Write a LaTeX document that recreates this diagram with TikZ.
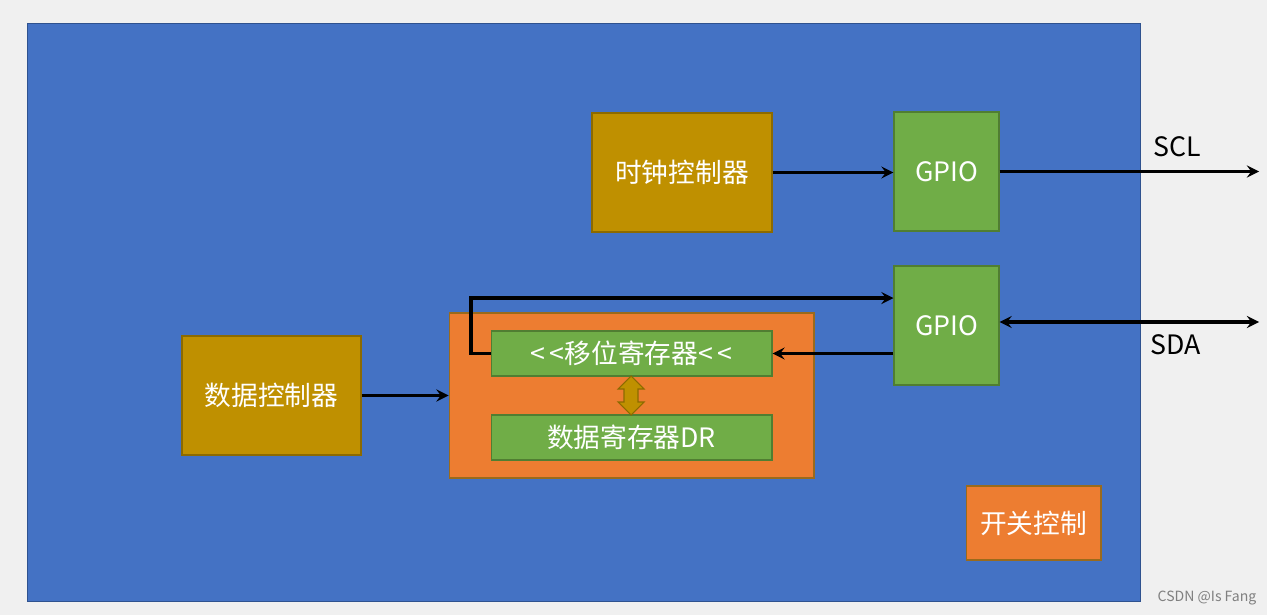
\documentclass[tikz,border=0pt]{standalone}
\usepackage{fontspec}
\setmainfont{Noto Sans CJK SC}
\definecolor{chipblue}{HTML}{4472C4}
\definecolor{chipedge}{HTML}{2F528F}
\definecolor{gold}{HTML}{BF9000}
\definecolor{goldedge}{HTML}{8C6A00}
\definecolor{leaf}{HTML}{70AD47}
\definecolor{leafedge}{HTML}{507E32}
\definecolor{tangerine}{HTML}{ED7D31}
\definecolor{tangedge}{HTML}{9A6A1C}
\definecolor{paper}{HTML}{F0F0F0}
\tikzset{
  box/.style={draw, line width=0.6pt, text=white, inner sep=0pt, font=\fontsize{15.2}{16}\selectfont},
  ctl/.style={box, fill=gold, draw=goldedge, minimum width=3.6cm, minimum height=2.38cm},
  gpio/.style={box, fill=leaf, draw=leafedge, minimum width=2.1cm, minimum height=2.38cm},
  reg/.style={box, fill=leaf, draw=leafedge, minimum width=5.62cm, minimum height=0.9cm},
  wire/.style={line width=2pt, ->},
  pin/.style={font=\fontsize{15.2}{16}\selectfont}
}
\begin{document}
\begin{tikzpicture}[>=stealth, x=0.02cm, y=-0.02cm]
    
    \fill[paper] (0,0) rectangle (1267,615);
    \useasboundingbox (0,0) rectangle (1267,615);
    
    \node[draw=chipedge, fill=chipblue, line width=0.6pt, minimum width=22.28cm, minimum height=11.58cm] (chip) at (584,312.5) {};
    
    \node[ctl] (clk) at (682,172.5) {时钟控制器};
    \node[gpio] (gpioa) at (946.5,171.5) {GPIO};
    \node[gpio] (gpiob) at (946.5,325.5) {GPIO};
    \node[ctl, minimum width=3.58cm] (dctl) at (271.5,395.5) {数据控制器};
    
    \node[box, fill=tangerine, draw=tangedge, minimum width=7.3cm, minimum height=3.3cm] (regbox) at (631.5,395.5) {};
    \node[reg] (shift) at (631.5,353.5) {<\,<移位寄存器<\,<};
    \node[reg] (dr) at (631.5,437.5) {数据寄存器DR};
    \node[box, fill=tangerine, draw=tangedge, minimum width=2.7cm, minimum height=1.48cm] (sw) at (1033.5,523) {开关控制};
    
    % shift <-> DR
    \filldraw[fill=gold, draw=goldedge, line width=0.6pt]
      (631,376) -- (644,389) -- (638,389) -- (638,402) -- (644,402) -- (631,415)
      -- (618,402) -- (624,402) -- (624,389) -- (618,389) -- cycle;
    
    \coordinate (scl) at (1259,171.5);
    \coordinate (sda) at (1259,322);
    \coordinate (bend) at (471,298);
    \node[pin] (scltxt) at (1177,147) {SCL};
    \node[pin] (sdatxt) at (1176,345) {SDA};
    
    \draw[wire] (clk.east) -- (clk.east -| gpioa.west);
    \draw[wire] (gpioa.east |- scl) -- (scl);
    \draw[wire, <->] (sda -| gpiob.east) -- (sda);
    \draw[wire] (gpiob.west |- shift.east) -- (shift.east);
    \draw[wire] (shift.west) -| (bend) -- (bend -| gpiob.west);
    \draw[wire] (dctl.east) -- (regbox.west);
    
    \node[text=gray, font=\fontsize{8}{9}\selectfont] (mark) at (1207,598) {CSDN @Is Fang};
    
\end{tikzpicture}
\end{document}
